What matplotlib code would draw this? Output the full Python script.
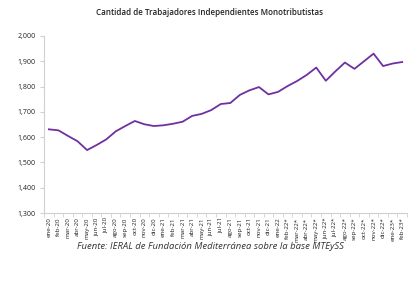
import numpy as np
import matplotlib
matplotlib.use("Agg")
import matplotlib.pyplot as plt

months = ["ene", "feb", "mar", "abr", "may", "jun", "jul", "ago", "sep", "oct", "nov", "dic"]
labels = ([f"{m}-20" for m in months] + [f"{m}-21" for m in months]
          + ["ene-22"] + [f"{m}-22*" for m in months[1:]] + ["ene-23*", "feb-23*"])
values = [1631, 1627, 1605, 1584, 1549, 1569, 1591, 1623, 1644, 1664, 1651, 1644,
          1647, 1653, 1661, 1684, 1692, 1707, 1731, 1735, 1767, 1785, 1798, 1769,
          1779, 1802, 1822, 1846, 1875, 1823, 1860, 1895, 1870, 1900, 1930, 1881,
          1891, 1897]
yticks = [1300, 1400, 1500, 1600, 1700, 1800, 1900, 2000]

plt.rcParams["font.family"] = ["Open Sans", "DejaVu Sans"]

fig = plt.figure(figsize=(4.2, 2.83), dpi=100)
ax = fig.add_axes([0.105, 0.247, 0.864, 0.626])

x = np.arange(len(values))
ax.plot(x, values, color="#7030A0", linewidth=1.3)

ax.set_xlim(-0.5, len(values) - 0.5)
ax.set_ylim(1300, 2000)
ax.set_yticks(yticks)
ax.set_yticklabels([f"{v:,}" for v in yticks], fontsize=5, color="#222222")
ax.set_xticks(x)
ax.set_xticklabels(labels, rotation=90, fontsize=4.5, color="#222222")
ax.set_xticks(np.arange(-0.5, len(values)), minor=True)
ax.tick_params(axis="x", which="major", length=0, pad=3)
ax.tick_params(axis="x", which="minor", length=3, color="#d0d0d0")
ax.tick_params(axis="y", length=3, color="#d0d0d0", pad=3)

for s in ["top", "right"]:
    ax.spines[s].set_visible(False)
for s in ["left", "bottom"]:
    ax.spines[s].set_color("#d0d0d0")
    ax.spines[s].set_linewidth(0.8)

fig.text(0.5, 0.955, "Cantidad de Trabajadores Independientes Monotributistas",
         ha="center", va="center", fontsize=5.8, fontweight="semibold", color="#222222")
fig.text(0.5, 0.128, "Fuente: IERAL de Fundación Mediterránea sobre la base MTEySS",
         ha="center", va="center", fontsize=6.8, style="italic", color="#333333")

fig.savefig("out.png", dpi=100)
